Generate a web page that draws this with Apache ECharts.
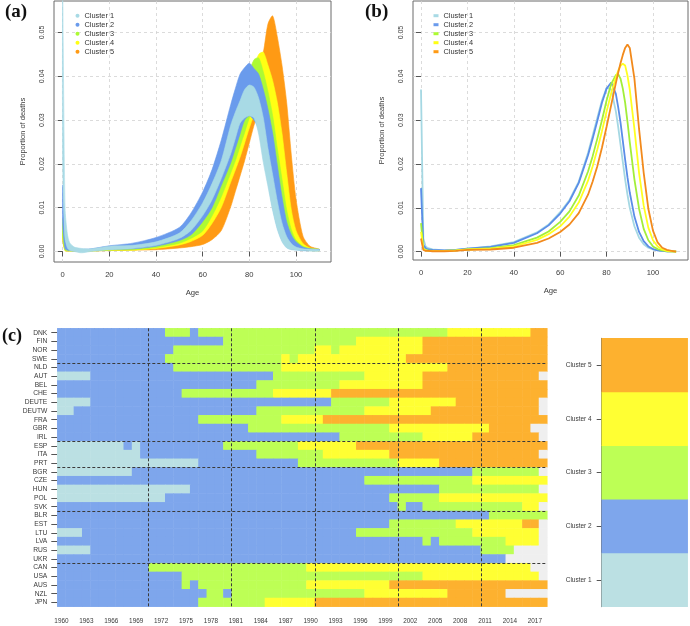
<!DOCTYPE html>
<html><head><meta charset="utf-8">
<script src="https://cdn.jsdelivr.net/npm/echarts@6/dist/echarts.min.js"></script>
<style>html,body{margin:0;padding:0;background:#fff}#c{width:690px;height:626px}</style>
</head><body><div id="c"></div>
<script>
// ---------- shared ----------
const clusterNames = ['Cluster 1','Cluster 2','Cluster 3','Cluster 4','Cluster 5'];
const ageTicks = [0,20,40,60,80,100];
const propTicks = [0,0.01,0.02,0.03,0.04,0.05];

// ---------- panel (a): envelopes (lowest / highest curve) of each cluster ----------
const agesA = [0,1,2,3,5,8,12,20,30,40,50,55,60,64,68,72,74,76,78,80,82,84,86,88,90,92,94,96,98,100,103,106,110];
const lower1 = [0.0200,0.0030,0.0008,0.0003,0.0000,-0.0003,0.0000,0.0004,0.0007,0.0014,0.0030,0.0048,0.0082,0.0118,0.0167,0.0223,0.0258,0.0293,0.0305,0.0310,0.0305,0.0268,0.0203,0.0148,0.0093,0.0050,0.0022,0.0008,0.0004,0.0003,0.0002,0.0001,0.0001];
const upper1 = [0.0573,0.0100,0.0040,0.0020,0.0010,0.0007,0.0006,0.0012,0.0014,0.0022,0.0042,0.0070,0.0111,0.0155,0.0208,0.0288,0.0318,0.0344,0.0370,0.0380,0.0375,0.0350,0.0305,0.0235,0.0175,0.0115,0.0065,0.0034,0.0018,0.0010,0.0006,0.0005,0.0004];
const lower2 = [0.0060,0.0006,0.0003,0.0002,0.0001,0.0001,0.0002,0.0005,0.0006,0.0012,0.0025,0.0038,0.0068,0.0100,0.0151,0.0202,0.0235,0.0268,0.0300,0.0310,0.0300,0.0280,0.0225,0.0160,0.0100,0.0055,0.0025,0.0010,0.0005,0.0004,0.0002,0.0002,0.0002];
const upper2 = [0.0152,0.0030,0.0012,0.0008,0.0006,0.0005,0.0006,0.0013,0.0019,0.0032,0.0055,0.0088,0.0136,0.0187,0.0255,0.0335,0.0372,0.0405,0.0420,0.0430,0.0418,0.0405,0.0370,0.0325,0.0270,0.0197,0.0125,0.0068,0.0038,0.0022,0.0010,0.0006,0.0005];
const lower3 = [0.0035,0.0003,0.0002,0.0001,0.0001,0.0001,0.0001,0.0003,0.0004,0.0009,0.0019,0.0030,0.0047,0.0081,0.0125,0.0179,0.0207,0.0240,0.0272,0.0305,0.0328,0.0310,0.0260,0.0200,0.0135,0.0080,0.0040,0.0018,0.0008,0.0005,0.0003,0.0002,0.0002];
const upper3 = [0.0075,0.0012,0.0006,0.0004,0.0003,0.0003,0.0004,0.0008,0.0012,0.0025,0.0045,0.0070,0.0105,0.0145,0.0195,0.0260,0.0295,0.0330,0.0370,0.0410,0.0438,0.0442,0.0410,0.0365,0.0310,0.0235,0.0165,0.0095,0.0050,0.0026,0.0012,0.0007,0.0005];
const lower4 = [0.0030,0.0002,0.0001,0.0001,0.0001,0.0001,0.0001,0.0003,0.0003,0.0007,0.0015,0.0023,0.0037,0.0064,0.0101,0.0158,0.0186,0.0215,0.0248,0.0282,0.0310,0.0318,0.0290,0.0240,0.0180,0.0120,0.0068,0.0035,0.0016,0.0008,0.0004,0.0003,0.0002];
const upper4 = [0.0060,0.0009,0.0005,0.0003,0.0002,0.0002,0.0003,0.0007,0.0009,0.0020,0.0040,0.0060,0.0090,0.0125,0.0170,0.0230,0.0265,0.0300,0.0340,0.0380,0.0420,0.0450,0.0455,0.0425,0.0390,0.0340,0.0270,0.0180,0.0095,0.0048,0.0018,0.0008,0.0005];
const lower5 = [0.0025,0.0002,0.0001,0.0001,0.0001,0.0001,0.0001,0.0002,0.0003,0.0004,0.0008,0.0011,0.0016,0.0027,0.0048,0.0102,0.0137,0.0172,0.0208,0.0248,0.0288,0.0318,0.0310,0.0270,0.0210,0.0145,0.0088,0.0048,0.0024,0.0012,0.0005,0.0003,0.0002];
const upper5 = [0.0045,0.0006,0.0003,0.0002,0.0002,0.0002,0.0002,0.0005,0.0007,0.0016,0.0032,0.0048,0.0072,0.0105,0.0145,0.0200,0.0235,0.0270,0.0305,0.0340,0.0380,0.0420,0.0455,0.0520,0.0538,0.0490,0.0425,0.0340,0.0220,0.0120,0.0035,0.0012,0.0005];

// ---------- panel (b): mean curves ----------
const agesB = [0,1,2,3,5,10,15,20,30,40,50,55,60,64,68,72,74,76,78,80,82,84,85,86,87,88,89,90,92,94,96,98,100,102,104,106,108,110];
const mean1 = [0.0370,0.0030,0.0012,0.0008,0.0005,0.0003,0.0004,0.0007,0.0012,0.0022,0.0044,0.0062,0.0090,0.0118,0.0160,0.0225,0.0265,0.0305,0.0345,0.0374,0.0370,0.0320,0.0285,0.0245,0.0205,0.0165,0.0130,0.0100,0.0058,0.0032,0.0017,0.0009,0.0005,0.0003,0.0002,0.0001,0.0001,0.0000];
const mean2 = [0.0145,0.0015,0.0008,0.0005,0.0004,0.0003,0.0004,0.0007,0.0011,0.0020,0.0042,0.0060,0.0087,0.0115,0.0157,0.0220,0.0258,0.0298,0.0340,0.0372,0.0386,0.0360,0.0330,0.0295,0.0253,0.0210,0.0170,0.0135,0.0080,0.0045,0.0024,0.0012,0.0006,0.0003,0.0002,0.0001,0.0001,0.0000];
const mean3 = [0.0065,0.0008,0.0004,0.0003,0.0002,0.0002,0.0003,0.0005,0.0008,0.0015,0.0032,0.0046,0.0068,0.0092,0.0128,0.0183,0.0218,0.0258,0.0300,0.0345,0.0383,0.0403,0.0405,0.0395,0.0372,0.0340,0.0297,0.0250,0.0165,0.0098,0.0052,0.0026,0.0012,0.0006,0.0003,0.0001,0.0001,0.0000];
const mean4 = [0.0045,0.0006,0.0003,0.0002,0.0002,0.0002,0.0003,0.0005,0.0007,0.0012,0.0027,0.0040,0.0058,0.0080,0.0112,0.0162,0.0195,0.0233,0.0275,0.0320,0.0362,0.0398,0.0413,0.0424,0.0429,0.0425,0.0402,0.0370,0.0280,0.0180,0.0105,0.0055,0.0026,0.0012,0.0005,0.0002,0.0001,0.0000];
const mean5 = [0.0030,0.0004,0.0002,0.0002,0.0001,0.0001,0.0002,0.0004,0.0005,0.0009,0.0020,0.0030,0.0045,0.0062,0.0088,0.0130,0.0160,0.0195,0.0237,0.0285,0.0335,0.0385,0.0408,0.0430,0.0449,0.0465,0.0473,0.0465,0.0395,0.0280,0.0180,0.0098,0.0048,0.0021,0.0009,0.0004,0.0002,0.0000];

// ---------- panel (c): cluster membership by country and year ----------
const years = [];
for (let y = 1960; y <= 2018; y++) years.push(String(y));
const regions = [
  ['DNK','FIN','NOR','SWE'],
  ['NLD','AUT','BEL','CHE','DEUTE','DEUTW','FRA','GBR','IRL'],
  ['ESP','ITA','PRT'],
  ['BGR','CZE','HUN','POL','SVK'],
  ['BLR','EST','LTU','LVA','RUS','UKR'],
  ['CAN','USA','AUS','NZL','JPN']
];
const decadeBreaks = [1971, 1981, 1991, 2001, 2011];
// one digit per year 1960..2018 (1-5 = cluster, 0 = no data)
const membership = {
  DNK:  '2222222222 2223332333 3333333333 3333333333 3333333444 444444455',
  FIN:  '2222222222 2222222222 3333333333 3333334444 4444555555 555555555',
  NOR:  '2222222222 2222333333 3333333333 3443444444 4444555555 555555555',
  SWE:  '2222222222 2223333333 3333333434 4444444444 4455555555 555555555',
  NLD:  '2222222222 2222333333 3333333444 4444444444 4444444555 555555555',
  AUT:  '1111222222 2222222222 2222223333 3333333444 4444555555 555555550',
  BEL:  '2222222222 2222222222 2222333333 3333444444 4444555555 555555555',
  CHE:  '2222222222 2222233333 3333334444 4445555555 5555555555 555555555',
  DEUTE:'1111222222 2222222222 2222222222 2223333333 4444444455 555555550',
  DEUTW:'1122222222 2222222222 2222333333 3333333444 4444455555 555555550',
  FRA:  '2222222222 2222222333 3333333444 4455555555 5555555555 555555555',
  GBR:  '2222222222 2222222222 2223333333 3333333333 4444444444 445555500',
  IRL:  '2222222222 2222222222 2222222222 2222333333 3333444444 555555550',
  ESP:  '1111111121 2222222222 3333333334 4444445555 5555555555 555555555',
  ITA:  '1111111111 2222222222 2222333333 3344444444 5555555555 555555550',
  PRT:  '1111111111 1111111222 2222222223 3333333333 3444445555 555555555',
  BGR:  '1111111112 2222222222 2222222222 2222222222 2222222222 333333330',
  CZE:  '2222222222 2222222222 2222222222 2222222333 3333333333 444444444',
  HUN:  '1111111111 1111112222 2222222222 2222222222 2222223333 333333330',
  POL:  '1111111111 1112222222 2222222222 2222222222 3333334444 444444444',
  SVK:  '2222222222 2222222222 2222222222 2222222222 2322333333 333333440',
  BLR:  '2222222222 2222222222 2222222222 2222222222 2222222222 223333333',
  EST:  '2222222222 2222222222 2222222222 2222222222 3333333344 444444550',
  LTU:  '1112222222 2222222222 2222222222 2222223333 3333333333 444444440',
  LVA:  '2222222222 2222222222 2222222222 2222222222 2222323333 333344440',
  RUS:  '1111222222 2222222222 2222222222 2222222222 2222222222 233330000',
  UKR:  '2222222222 2222222222 2222222222 2222222222 2222222222 222200000',
  CAN:  '2222222222 2333333333 3333333333 4444444444 4444444444 444444400',
  USA:  '2222222222 2222233333 3333333333 3333333333 3333444444 444444440',
  AUS:  '2222222222 2222232333 3333333333 4444444444 5555555555 555555555',
  NZL:  '2222222222 2222222233 2333333333 3333333444 4444444555 555500000',
  JPN:  '2222222222 2222222333 3333344444 4555555555 5555555555 555555555'
};

// ---------- colours ----------
const bandColors = ['#A8DAE5','#6A9BEC','#ADFA33','#FFFF14','#FF9A14'];
const lineColors = ['#A5D8E3','#5A8DE8','#A2EE3A','#FFFF22','#F28A1C'];
const heatColors = ['#BBE0E3','#7EA6EC','#BDFF55','#FFFF33','#FDB12F'];
const missingColor = '#EFEFEF';

// ---------- build ----------
const lowers = [lower1,lower2,lower3,lower4,lower5];
const uppers = [upper1,upper2,upper3,upper4,upper5];
const means = [mean1,mean2,mean3,mean4,mean5];
const countries = [].concat(...regions);
const regionBreaks = [];
let acc = 0;
regions.slice(0, -1).forEach(r => { acc += r.length; regionBreaks.push(acc); });

const heatData = [];
countries.forEach((c, i) => {
  const s = membership[c].replace(/ /g, '');
  for (let j = 0; j < years.length; j++) heatData.push([j, i, Number(s[j])]);
});

const series = [];
// bands: cluster 5 drawn first, cluster 1 last (on top)
for (let k = 4; k >= 0; k--) {
  const lo = lowers[k], hi = uppers[k], col = bandColors[k];
  series.push({
    type: 'custom', name: clusterNames[k], xAxisIndex: 0, yAxisIndex: 0,
    itemStyle: {color: col},
    encode: {x: 0, y: [1, 2]},
    data: agesA.map((a, i) => [a, lo[i], hi[i]]),
    renderItem: function (params, api) {
      if (params.dataIndex !== 0) return null;
      const pts = [];
      for (let i = 0; i < agesA.length; i++) pts.push(api.coord([agesA[i], hi[i]]));
      for (let i = agesA.length - 1; i >= 0; i--) pts.push(api.coord([agesA[i], lo[i]]));
      return {type: 'polygon', shape: {points: pts, smooth: 0.25}, style: {fill: col, stroke: col, lineWidth: 0.6}};
    }
  });
}
for (let k = 0; k < 5; k++) {
  series.push({
    type: 'line', name: clusterNames[k], xAxisIndex: 1, yAxisIndex: 1,
    data: agesB.map((a, i) => [a, means[k][i]]),
    showSymbol: false, symbol: 'none', smooth: false,
    lineStyle: {color: lineColors[k], width: 1.8}, itemStyle: {color: lineColors[k]}
  });
}
const heatIndex = series.length;
series.push({
  type: 'heatmap', name: 'membership', xAxisIndex: 2, yAxisIndex: 2,
  data: heatData, progressive: 0, emphasis: {disabled: true}
});
series.push({
  type: 'heatmap', name: 'key', xAxisIndex: 3, yAxisIndex: 3,
  data: clusterNames.map((n, i) => [0, i, i + 1]), progressive: 0, emphasis: {disabled: true}
});
series.push({
  type: 'line', name: 'dividers', xAxisIndex: 4, yAxisIndex: 4, data: [], silent: true,
  markLine: {
    silent: true, symbol: ['none', 'none'], label: {show: false}, animation: false,
    lineStyle: {type: [3, 2], color: '#3a3a3a', width: 1},
    data: decadeBreaks.map(v => ({xAxis: v - 0.5})).concat(regionBreaks.map(v => ({yAxis: v})))
  }
});

const axTxt = {color: '#3a3a3a', fontFamily: 'Liberation Sans'};
function ageAxis(grid, min, max) {
  return {
    gridIndex: grid, type: 'value', min: min, max: max,
    axisLine: {show: false},
    axisTick: {show: true, customValues: ageTicks, length: 5, lineStyle: {color: '#555'}},
    axisLabel: Object.assign({customValues: ageTicks, fontSize: 7.6, margin: 9}, axTxt),
    splitLine: {show: true, lineStyle: {type: [3, 3], color: '#d2d2d2', width: 0.8}},
    name: 'Age', nameLocation: 'middle', nameGap: 27,
    nameTextStyle: Object.assign({fontSize: 7.7}, axTxt)
  };
}
function propAxis(grid, min, max) {
  return {
    gridIndex: grid, type: 'value', min: min, max: max,
    axisLine: {show: false},
    axisTick: {show: true, customValues: propTicks, length: 5, lineStyle: {color: '#555'}},
    axisLabel: Object.assign({customValues: propTicks, fontSize: 7, rotate: 90, margin: 8,
      formatter: v => v.toFixed(2)}, axTxt),
    splitLine: {show: true, lineStyle: {type: [3, 3], color: '#d2d2d2', width: 0.8}},
    name: 'Proportion of deaths', nameLocation: 'middle', nameGap: 27,
    nameTextStyle: Object.assign({fontSize: 7.5}, axTxt)
  };
}

const option = {
  animation: false,
  textStyle: {fontFamily: 'Liberation Sans'},
  grid: [
    {left: 54, top: 1, width: 277, height: 261, show: true, borderColor: '#6a6a6a', borderWidth: 1},
    {left: 413, top: 1, width: 275, height: 259, show: true, borderColor: '#6a6a6a', borderWidth: 1},
    {left: 57.3, top: 328.3, width: 490, height: 278.4},
    {left: 601.7, top: 338.3, width: 86, height: 268.4}
  ],
  xAxis: [
    ageAxis(0, -3.73, 115),
    ageAxis(1, -3.45, 115.1),
    {gridIndex: 2, type: 'category', data: years, offset: 3,
      axisLine: {show: false},
      axisTick: {show: true, interval: 0, alignWithLabel: true, length: 4, lineStyle: {color: '#555'}},
      axisLabel: Object.assign({interval: 2, fontSize: 6.4, margin: 9}, axTxt),
      splitLine: {show: false}},
    {gridIndex: 3, type: 'category', data: [''], show: false},
    {gridIndex: 2, type: 'value', min: 1959.5, max: 2018.5, show: false}
  ],
  yAxis: [
    propAxis(0, -0.0024, 0.0572),
    propAxis(1, -0.0019, 0.0572),
    {gridIndex: 2, type: 'category', data: countries, inverse: true,
      axisLine: {show: false},
      axisTick: {show: true, interval: 0, alignWithLabel: true, length: 6, lineStyle: {color: '#555'}},
      axisLabel: Object.assign({interval: 0, fontSize: 6.7, margin: 10}, axTxt),
      splitLine: {show: false}},
    {gridIndex: 3, type: 'category', data: clusterNames,
      axisLine: {show: true, lineStyle: {color: '#666'}},
      axisTick: {show: true, alignWithLabel: true, length: 5, lineStyle: {color: '#555'}},
      axisLabel: Object.assign({fontSize: 6.5, margin: 10}, axTxt)},
    {gridIndex: 2, type: 'value', min: 0, max: countries.length, inverse: true, show: false}
  ],
  visualMap: {
    type: 'piecewise', show: false, dimension: 2, seriesIndex: [heatIndex, heatIndex + 1],
    pieces: [{value: 0, color: missingColor}].concat(heatColors.map((c, i) => ({value: i + 1, color: c})))
  },
  legend: [
    {data: clusterNames, orient: 'vertical', left: 75.5, top: 11.2, padding: 0, itemGap: 0,
      icon: 'circle', itemWidth: 4, itemHeight: 4, selectedMode: false,
      textStyle: {fontSize: 7.4, lineHeight: 9, color: '#333'}},
    {data: clusterNames, orient: 'vertical', left: 433.5, top: 11.2, padding: 0, itemGap: 0,
      icon: 'rect', itemWidth: 5, itemHeight: 3, selectedMode: false,
      textStyle: {fontSize: 7.4, lineHeight: 9, color: '#333'}}
  ],
  graphic: [
    {type: 'text', left: 5, top: 3, style: {text: '(a)', font: 'bold 19px "Liberation Serif"', fill: '#111'}},
    {type: 'text', left: 365, top: 3, style: {text: '(b)', font: 'bold 19px "Liberation Serif"', fill: '#111'}},
    {type: 'text', left: 2, top: 327, style: {text: '(c)', font: 'bold 18px "Liberation Serif"', fill: '#111'}}
  ],
  series: series
};
const chart = echarts.init(document.getElementById('c'), null, {renderer: 'canvas'});
chart.setOption(option);
</script></body></html>
